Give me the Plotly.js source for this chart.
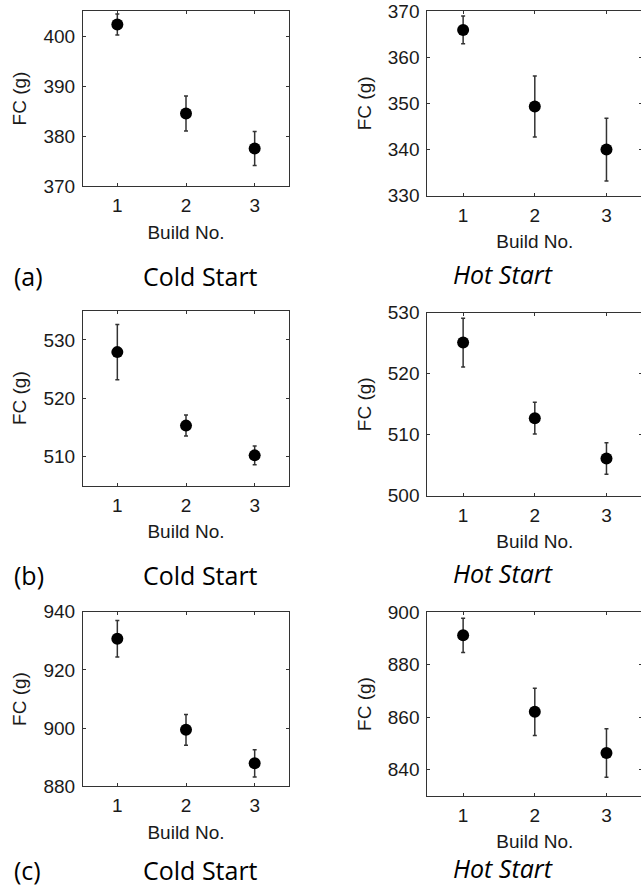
<!DOCTYPE html>
<html>
<head>
<meta charset="utf-8">
<script src="https://cdn.plot.ly/plotly-3.0.1.min.js"></script>
<style>
html,body{margin:0;padding:0;overflow:hidden;background:#fff;width:641px;height:890px;}
#chart{width:660px;height:890px;}
</style>
</head>
<body>
<div id="chart"></div>
<script>
// ---- data ----
const builds = [1, 2, 3];
const coldA = [402.3, 384.5, 377.5];
const coldAErr = [2.1, 3.5, 3.4];
const hotA = [365.9, 349.3, 340.0];
const hotAErr = [3.0, 6.6, 6.8];
const coldB = [527.9, 515.3, 510.2];
const coldBErr = [4.75, 1.8, 1.6];
const hotB = [525.1, 512.7, 506.1];
const hotBErr = [4.0, 2.6, 2.6];
const coldC = [930.7, 899.4, 887.9];
const coldCErr = [6.3, 5.3, 4.7];
const hotC = [891.2, 862.0, 846.3];
const hotCErr = [6.5, 9.0, 9.3];
const panelLabels = ["(a)", "(b)", "(c)"];
const coldLabel = "Cold Start";
const hotLabel = "Hot Start";
const xTitle = "Build No.";
const yTitle = "FC (g)";

// ---- layout helpers ----
const W = 660, H = 890;
const series = [
  {y: coldA, e: coldAErr, box: [83, 11, 289, 186], range: [370, 405], dtick: 10},
  {y: hotA, e: hotAErr, box: [427.3, 11, 642.3, 195.7], range: [330, 370], dtick: 10},
  {y: coldB, e: coldBErr, box: [83, 310.7, 289, 485.7], range: [505, 535], dtick: 10},
  {y: hotB, e: hotBErr, box: [427.3, 312.7, 642.3, 495.7], range: [500, 530], dtick: 10},
  {y: coldC, e: coldCErr, box: [83, 611.7, 289, 786.3], range: [880, 940], dtick: 20},
  {y: hotC, e: hotCErr, box: [427.3, 612.3, 642.3, 795.7], range: [830, 900], dtick: 20}
];

const tickFont = {family: "Liberation Sans, Arial, sans-serif", size: 19, color: "#1a1a1a"};
const titleFont = {family: "Liberation Sans, Arial, sans-serif", size: 19, color: "#1a1a1a"};
const frameColor = "#333333";
const traces = [];
const layout = {
  width: W, height: H,
  margin: {l: 0, r: 0, t: 0, b: 0},
  paper_bgcolor: "#ffffff",
  plot_bgcolor: "#ffffff",
  showlegend: false,
  annotations: []
};

series.forEach((s, i) => {
  const n = i + 1;
  const xa = n === 1 ? "x" : "x" + n;
  const ya = n === 1 ? "y" : "y" + n;
  traces.push({
    x: builds, y: s.y, type: "scatter", mode: "markers",
    xaxis: xa, yaxis: ya,
    marker: {color: "#000000", size: 12},
    error_y: {type: "data", array: s.e, visible: true, color: "#333333", thickness: 1.5, width: 2}
  });
  const [x0, y0, x1, y1] = s.box;
  layout["xaxis" + (n === 1 ? "" : n)] = {
    domain: [x0 / W, x1 / W], anchor: ya,
    range: [0.5, 3.5], tickvals: builds, ticktext: builds.map(String),
    ticks: "inside", ticklen: 3, tickcolor: frameColor,
    showline: true, linecolor: frameColor, linewidth: 1, mirror: "ticks",
    showgrid: false, zeroline: false, fixedrange: true,
    tickfont: tickFont, ticklabelstandoff: 2,
    title: {text: xTitle, font: titleFont, standoff: 10}
  };
  layout["yaxis" + (n === 1 ? "" : n)] = {
    domain: [1 - y1 / H, 1 - y0 / H], anchor: xa,
    range: s.range, dtick: s.dtick, tick0: 0,
    ticks: "inside", ticklen: 3, tickcolor: frameColor,
    showline: true, linecolor: frameColor, linewidth: 1, mirror: "ticks",
    showgrid: false, zeroline: false, fixedrange: true,
    tickfont: tickFont, ticklabelstandoff: 3,
    title: {text: yTitle, font: titleFont, standoff: 11}
  };
});

const capFont = {family: "Open Sans, sans-serif", size: 25, color: "#000000"};
const rowY = [276, 575, 870];
rowY.forEach((py, r) => {
  layout.annotations.push({
    text: panelLabels[r], xref: "paper", yref: "paper",
    x: 13 / W, y: 1 - py / H, xanchor: "left", yanchor: "middle",
    showarrow: false, font: capFont, borderpad: 0
  });
  layout.annotations.push({
    text: coldLabel, xref: "paper", yref: "paper",
    x: 200 / W, y: 1 - py / H, xanchor: "center", yanchor: "middle",
    showarrow: false, font: capFont, borderpad: 0
  });
  layout.annotations.push({
    text: "<i>" + hotLabel + "</i>", xref: "paper", yref: "paper",
    x: 503 / W, y: 1 - (py - 2) / H, xanchor: "center", yanchor: "middle",
    showarrow: false, font: capFont, borderpad: 0
  });
});

Plotly.newPlot("chart", traces, layout, {displayModeBar: false, staticPlot: true});
</script>
</body>
</html>
